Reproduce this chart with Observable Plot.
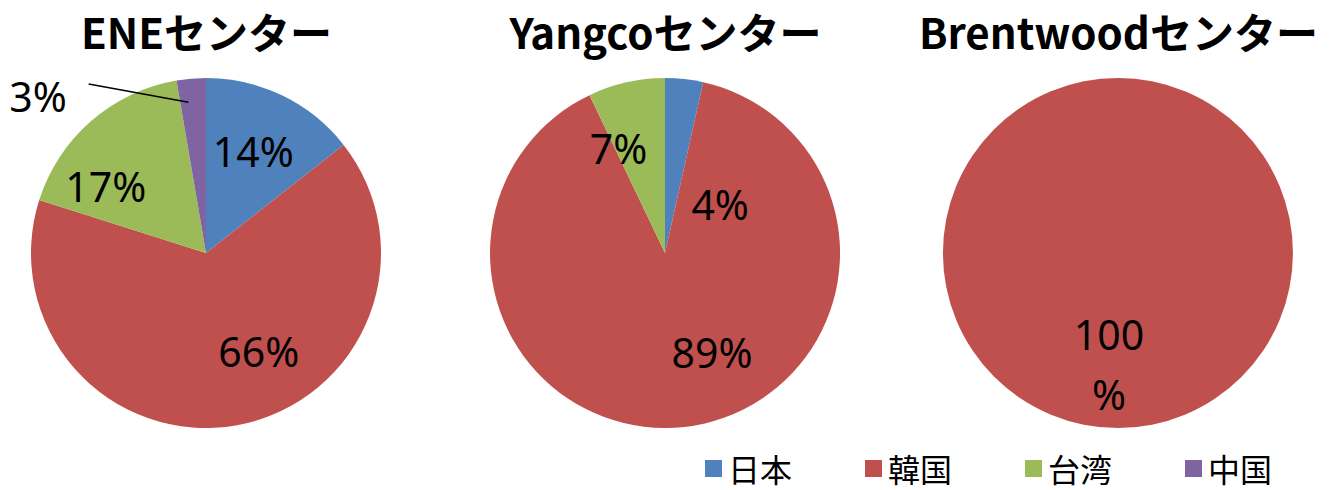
<!DOCTYPE html>
<html>
<head>
<meta charset="utf-8">
<script src="https://cdn.jsdelivr.net/npm/d3@7"></script>
<script src="https://cdn.jsdelivr.net/npm/@observablehq/plot@0.6"></script>
<style>
  html, body { margin: 0; padding: 0; background: #fff; }
  #chart { position: relative; width: 1333px; height: 490px; overflow: hidden; }
  #legend { position: absolute; left: 705px; top: 445px; width: 628px; white-space: nowrap; }
  #legend .lg-swatches { flex-wrap: nowrap !important; }
  #legend .lg-swatch { margin-right: 0 !important; width: 160px; flex: none; font-size: 32px; font-family: "Noto Sans CJK JP", sans-serif; color: #000; }
  #legend .lg-swatch svg { margin-right: 6px !important; }
</style>
</head>
<body>
<div id="chart"></div>
<script>
// ---- data ----
const centers = ["ENEセンター", "Yangcoセンター", "Brentwoodセンター"];
const countries = ["日本", "韓国", "台湾", "中国"];
const colors = ["#4F81BD", "#C0504D", "#9BBB59", "#8064A2"];
const eneShares = [14.4, 65.5, 17.4, 2.7];
const yangcoShares = [3.5, 89.4, 7.1, 0];
const brentwoodShares = [0, 100, 0, 0];
const eneLabels = ["14%", "66%", "17%", "3%"];
const yangcoLabels = ["4%", "89%", "7%", ""];
const brentwoodLabels = ["", "100\n%", "", ""];

// ---- label placement (angle in degrees clockwise from top, radius in pie radii) ----
const enePlacement = [[24, 0.657], [151, 0.617], [305, 0.703], [313.6, 1.33]];
const yangcoPlacement = [[46, 0.434], [154, 0.606], [336.5, 0.674], [0, 0]];
const brentwoodPlacement = [[0, 0], [185, 0.617], [0, 0], [0, 0]];
const leader = {center: 0, from: [325.2, 1.18], to: [353.2, 0.87]};

// ---- layout ----
const W = 1333, H = 440, R = 175;
const pieX = [0, 2.623, 5.211];   // pie centres, in radii
const LEFT = 206, CY = 253;
const titleY = (CY - 35) / R;

const sharesBy = [eneShares, yangcoShares, brentwoodShares];
const labelsBy = [eneLabels, yangcoLabels, brentwoodLabels];
const placeBy = [enePlacement, yangcoPlacement, brentwoodPlacement];

const rows = [];
centers.forEach((c, i) => countries.forEach((k, j) => rows.push({
  center: c, ci: i, country: k, value: sharesBy[i][j], label: labelsBy[i][j],
  angle: placeBy[i][j][0] * Math.PI / 180, r: placeBy[i][j][1]
})));

const color = Plot.scale({color: {type: "ordinal", domain: countries, range: colors}});

function pies(index, scales) {
  const g = d3.create("svg:g");
  const x = scales.x, y = scales.y;
  const pie = d3.pie().sort(null).value(d => d.value);
  centers.forEach((c, i) => {
    const data = rows.filter(d => d.ci === i);
    const px = x(pieX[i]), py = y(0);
    const rpx = x(pieX[i] + 1) - px;
    const arc = d3.arc().innerRadius(0).outerRadius(rpx);
    g.append("g")
      .attr("transform", `translate(${px},${py})`)
      .selectAll("path")
      .data(pie(data).filter(a => a.data.value > 0))
      .join("path")
      .attr("d", arc)
      .attr("fill", a => color.apply(a.data.country));
  });
  return g.node();
}

const labelRows = rows.filter(d => d.label);
const polarX = (ci, a, r) => pieX[ci] + r * Math.sin(a * Math.PI / 180);
const polarY = (a, r) => r * Math.cos(a * Math.PI / 180);

const plot = Plot.plot({
  width: W, height: H,
  margin: 0,
  style: {background: "transparent", overflow: "visible"},
  x: {type: "linear", domain: [-LEFT / R, (W - LEFT) / R], axis: null},
  y: {type: "linear", domain: [-(H - CY) / R, CY / R], axis: null},
  marks: [
    pies,
    Plot.link([leader], {
      x1: d => polarX(d.center, ...d.from), y1: d => polarY(...d.from),
      x2: d => polarX(d.center, ...d.to), y2: d => polarY(...d.to),
      stroke: "#000", strokeWidth: 1.5
    }),
    Plot.text(labelRows, {
      x: d => pieX[d.ci] + d.r * Math.sin(d.angle),
      y: d => d.r * Math.cos(d.angle),
      text: "label",
      fontSize: 41, fill: "#000", lineHeight: 1.45,
      fontFamily: "'Noto Sans', sans-serif"
    }),
    Plot.text(centers, {
      x: (d, i) => pieX[i], y: () => titleY, text: d => d,
      fontSize: 42, fontWeight: "bold", fill: "#000",
      fontFamily: "'Noto Sans CJK JP', sans-serif"
    })
  ]
});
document.getElementById("chart").appendChild(plot);

const legend = Plot.legend({
  color: {type: "ordinal", domain: countries, range: colors},
  swatchSize: 17, className: "lg"
});
const ld = document.createElement("div");
ld.id = "legend";
ld.appendChild(legend);
document.getElementById("chart").appendChild(ld);
</script>
</body>
</html>
